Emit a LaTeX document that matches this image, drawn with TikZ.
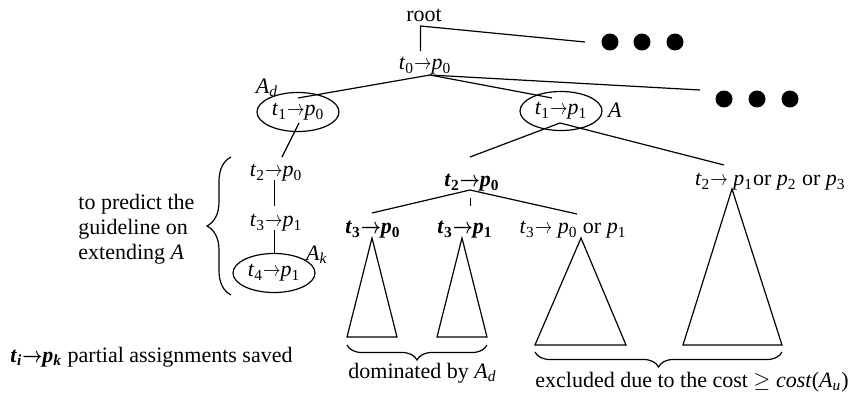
\documentclass[tikz,border=0pt]{standalone}
\usepackage{amsmath}
\usepackage{graphicx}
\usepackage{fontspec}
\setmainfont{Liberation Serif}
\usetikzlibrary{calc,positioning,shapes.geometric,decorations.pathreplacing}
\tikzset{
  edge/.style      = {line width=0.6pt},
  asg/.style       = {inner sep=1pt},
  saved/.style     = {ellipse, draw, line width=0.6pt, inner sep=0pt,
                      minimum width=41pt, minimum height=19.5pt},
  more dot/.style  = {circle, fill=black, inner sep=0pt, minimum size=8.5pt},
  subtree/.style   = {line width=0.6pt, line join=miter},
  cbrace/.style    = {decorate, decoration={brace, amplitude=#1}, line width=0.6pt},
  tag/.style       = {inner sep=0pt},
  note/.style      = {align=left, inner sep=0pt},
}
\newcommand{\arr}{\scalebox{0.8}[1]{$\rightarrow$}}
\newcommand{\arrb}{\scalebox{0.8}[1]{$\boldsymbol{\rightarrow}$}}
\newcommand{\asgn}[2]{\textit{t}\textsubscript{#1}\arr\textit{p}\textsubscript{#2}}
\newcommand{\asgnb}[2]{\textbf{\textit{t}\textsubscript{#1}\arrb\textit{p}\textsubscript{#2}}}
\newcommand{\Asub}[1]{\textit{A}\textsubscript{\textit{#1}}}

\begin{document}
\begin{tikzpicture}[x=0.5pt,y=-0.5pt,
    every node/.style={font=\fontsize{11}{12.5}\selectfont}]
  \useasboundingbox (0,0) rectangle (848,396);

  % ---- top of the search tree ---------------------------------------------
  \node[asg] (root) at (424,15) {root};
  \node[asg] (t0)   at (425,66) {\asgn{0}{0}};
  \foreach \i/\x in {1/610,2/642,3/675}
    \node[more dot] (d\i) at (\x,42) {};
  \foreach \i/\x in {1/724,2/757,3/790}
    \node[more dot] (e\i) at (\x,99) {};
  \coordinate (top end) at (585,42);
  \coordinate (mid end) at (700,90);

  \node[saved] (ad) at (298,112) {\asgn{1}{0}};
  \node[saved] (a)  at (561,111) {\asgn{1}{1}};
  \node[tag] at (267,88)  {\Asub{d}};
  \node[tag] at (615,110) {\textit{A}};

  \draw[edge] (top end) -- ($(root)+(-3.5,11)$) -- ($(t0)+(-4.5,-15)$);
  \draw[edge] ($(t0)+(5,9)$) -- ($(ad)+(0,-14)$);
  \draw[edge] ($(t0)+(5,9)$) -- ($(a)+(-9,-13)$);
  \draw[edge] ($(t0)+(5,9)$) -- (mid end);

  % ---- left branch: the guideline -----------------------------------------
  \node[asg] (t2l) at (276,173) {\asgn{2}{0}};
  \node[asg] (t3l) at (276,223) {\asgn{3}{1}};
  \node[saved] (ak) at (274,273) {\asgn{4}{1}};
  \node[tag] at (317,255) {\Asub{k}};

  \draw[edge] ($(ad)+(1,11)$) -- ($(t2l)+(6,-16)$);
  \draw[edge] ($(t2l)+(-1.5,7)$) -- ($(t3l)+(-1.5,-17)$);
  \draw[edge] ($(t3l)+(-1.5,7)$) -- ($(ak.north)+(0.5,0)$);

  \draw[cbrace=12pt] (231,295) -- (231,157);
  \node[note, anchor=west] at (78,229)
    {to predict the\\guideline on\\extending \textit{A}};

  % ---- right branch: pruned subtrees --------------------------------------
  \node[asg] (n20) at (472,183) {\asgnb{2}{0}};
  \node[asg, anchor=east] (n2x) at (848,182)
    {\textit{t}\textsubscript{2}\arr\ \textit{p}\textsubscript{1}or
     \textit{p}\textsubscript{2} or \textit{p}\textsubscript{3}};
  \node[asg] (n30) at (373,230) {\asgnb{3}{0}};
  \node[asg] (n31) at (465,230) {\asgnb{3}{1}};
  \node[asg] (n3x) at (573,230)
    {\textit{t}\textsubscript{3}\arr\ \textit{p}\textsubscript{0} or
     \textit{p}\textsubscript{1}};

  \draw[edge] ($(a)+(-1,12)$) -- ($(n20)+(-2,-26)$);
  \draw[edge] ($(a)+(-1,12)$) -- ($(n2x.east)+(-124,-17)$);
  \draw[edge] ($(n20)+(-2,7)$) -- ($(n30)+(-1,-17)$);
  \draw[edge] ($(n20)+(-1.5,15)$) -- ($(n20)+(-1.5,23)$);
  \draw[edge] ($(n20)+(-2,7)$) -- ($(n3x)+(4,-16)$);

  \draw[subtree] ($(n30)+(-1,8)$) -- ++(-25,99) -- ++(50,0) -- cycle;
  \draw[subtree] ($(n31)+(-3,8)$) -- ++(-25,99) -- ++(50,0) -- cycle;
  \draw[subtree] ($(n3x)+(8,8)$)  -- ++(-46,107) -- ++(91,0) -- cycle;
  \draw[subtree] ($(n2x.east)+(-116,7)$) -- ++(-49,156) -- ++(99,0) -- cycle;

  \draw[cbrace=7.5pt] (487,345) -- (347,345);
  \draw[cbrace=7.5pt] (782,352) -- (535,352);
  \node[tag, anchor=west] at (348,373) {dominated by \Asub{d}};
  \node[tag, anchor=west] at (535,382)
    {excluded due to the cost $\geq$ \textit{cost}(\Asub{u})};

  % ---- legend -------------------------------------------------------------
  \node[tag, anchor=west] at (10,357)
    {\textbf{\textit{t}\textsubscript{\textit{i}}\arrb\textit{p}\textsubscript{\textit{k}}}
     partial assignments saved};
\end{tikzpicture}
\end{document}
